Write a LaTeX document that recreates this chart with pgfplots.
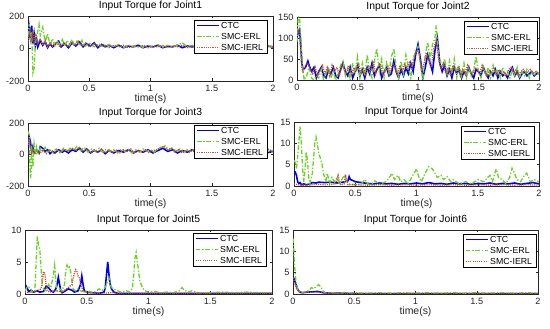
\documentclass[border=0pt]{standalone}
\usepackage{pgfplots}
\pgfplotsset{compat=1.18}
\usepackage{fontspec}
\setmainfont{Liberation Sans}
\definecolor{cctc}{RGB}{0,0,235}
\definecolor{cerl}{RGB}{105,210,35}
\definecolor{cierl}{RGB}{195,80,50}
\definecolor{axgray}{RGB}{38,38,38}
\tikzset{
  lctc/.style={color=cctc, solid, line width=1.6bp},
  lerl/.style={color=cerl, line width=1.3bp, dash pattern=on 4.5bp off 1.8bp on 1.3bp off 1.8bp},
  lierl/.style={color=cierl, line width=1.3bp, dash pattern=on 1.1bp off 1.1bp},
  legtxt/.style={anchor=west, inner sep=0pt, font=\fontsize{8.8}{9}\selectfont, text=black},
}
\pgfplotsset{
  jax/.style={
    scale only axis,
    xmin=0, xmax=2,
    xtick={0,0.5,1,1.5,2},
    xticklabels={0,0.5,1,1.5,2},
    xlabel={time(s)},
    tick align=inside,
    major tick length=2.5bp,
    axis line style={draw=axgray, line width=0.5bp},
    every tick/.style={draw=axgray, line width=0.5bp},
    /pgf/number format/assume math mode=true,
    ticklabel style={font=\fontsize{9.2}{9.2}\selectfont, text=axgray},
    xticklabel style={yshift=-0.5bp},
    xlabel style={font=\fontsize{10.5}{11}\selectfont, text=axgray, yshift=4bp},
    title style={font=\fontsize{10.4}{11}\selectfont, yshift=-4.5bp},
    clip=true,
  },
}
% legend box and legend texts: #1 = gap from right axis edge, #2 = gap from top axis edge (bp)
\newcommand{\legbox}[2]{%
  \path (rel axis cs:1,1) ++(-#1bp,-#2bp) coordinate (L);
  \draw[solid, line width=0.5bp, fill=white] (L) rectangle ++(-73bp,-33bp);}
\newcommand{\legtext}[2]{%
  \path (rel axis cs:1,1) ++(-#1bp,-#2bp) coordinate (L);
  \path (L) ++(-46bp,-5.5bp)  node[legtxt] {CTC};
  \path (L) ++(-46bp,-16.5bp) node[legtxt] {SMC-ERL};
  \path (L) ++(-46bp,-27.5bp) node[legtxt] {SMC-IERL};}
\begin{document}
\begin{tikzpicture}
\useasboundingbox (0,0) rectangle (550bp,329bp);
% ---------------- Joint 1
\begin{axis}[jax, at={(28bp,248bp)}, anchor=south west, width=245bp, height=65bp,
  ymin=-200, ymax=200, ytick={-200,0,200}, yticklabels={-200,0,200},
  title={Input Torque for Joint1}]
\addplot[lctc] coordinates {(0,40)(0.01,130)(0.02,70)(0.03,140)(0.04,30)(0.05,90)(0.06,20)(0.07,60)(0.08,10)(0.1,50)(0.12,20)(0.14,40)(0.16,5)(0.18,30)(0.2,10)(0.22,25)(0.25,45)(0.27,10)(0.3,30)(0.33,5)(0.36,35)(0.39,15)(0.42,40)(0.45,10)(0.48,30)(0.51,15)(0.54,35)(0.57,5)(0.6,25)(0.63,10)(0.66,20)(0.7,5)(0.74,20)(0.78,5)(0.82,15)(0.86,10)(0.9,20)(0.94,5)(0.98,15)(1.02,10)(1.06,20)(1.1,5)(1.14,15)(1.18,10)(1.22,20)(1.26,5)(1.3,15)(1.34,10)(1.38,15)(1.42,5)(1.46,15)(1.5,10)(1.55,20)(1.6,5)(1.65,15)(1.7,10)(1.75,15)(1.8,5)(1.85,15)(1.9,10)(1.95,15)(2,10)};
\addplot[lerl] coordinates {(0,80)(0.01,150)(0.02,60)(0.03,100)(0.04,-150)(0.05,-120)(0.06,30)(0.08,110)(0.09,150)(0.1,80)(0.12,130)(0.14,40)(0.16,90)(0.18,20)(0.2,60)(0.22,15)(0.24,45)(0.26,20)(0.28,55)(0.3,15)(0.32,50)(0.34,20)(0.36,55)(0.38,15)(0.4,45)(0.42,20)(0.44,50)(0.46,10)(0.5,35)(0.54,10)(0.58,30)(0.62,5)(0.66,25)(0.7,10)(0.74,25)(0.78,5)(0.82,20)(0.86,10)(0.9,25)(0.94,5)(0.98,20)(1.02,10)(1.06,25)(1.1,5)(1.14,20)(1.18,10)(1.22,20)(1.26,35)(1.3,10)(1.34,20)(1.38,5)(1.42,20)(1.46,10)(1.5,25)(1.55,5)(1.6,20)(1.65,10)(1.7,30)(1.75,10)(1.8,20)(1.85,5)(1.9,25)(1.95,10)(2,15)};
\addplot[lierl] coordinates {(0,30)(0.01,100)(0.02,120)(0.03,60)(0.04,110)(0.05,40)(0.06,80)(0.08,30)(0.1,60)(0.12,20)(0.14,50)(0.16,10)(0.18,35)(0.2,15)(0.23,40)(0.26,10)(0.29,35)(0.32,10)(0.35,40)(0.38,20)(0.41,45)(0.44,15)(0.47,35)(0.5,10)(0.54,30)(0.58,10)(0.62,25)(0.66,5)(0.7,20)(0.74,10)(0.78,20)(0.82,5)(0.86,15)(0.9,10)(0.94,20)(0.98,5)(1.02,15)(1.06,10)(1.1,20)(1.14,5)(1.18,15)(1.22,10)(1.26,20)(1.3,5)(1.34,15)(1.4,10)(1.45,20)(1.5,5)(1.55,15)(1.6,10)(1.65,20)(1.7,5)(1.75,15)(1.8,10)(1.85,20)(1.9,5)(1.95,15)(2,10)};
\legbox{6}{4}
\addplot[lctc] coordinates {(1.3796,141.54)(1.5592,141.54)};
\addplot[lerl] coordinates {(1.3796,73.85)(1.5592,73.85)};
\addplot[lierl] coordinates {(1.3796,6.15)(1.5592,6.15)};
\legtext{6}{4}
\end{axis}
% ---------------- Joint 2
\begin{axis}[jax, at={(297bp,249bp)}, anchor=south west, width=242bp, height=63bp,
  ymin=0, ymax=150, ytick={0,50,100,150}, yticklabels={0,50,100,150},
  title={Input Torque for Joint2}]
\addplot[lctc] coordinates {(0,100)(0.01,115)(0.02,120)(0.03,90)(0.04,40)(0.05,25)(0.07,30)(0.09,45)(0.1,35)(0.12,20)(0.14,30)(0.16,5)(0.18,20)(0.2,30)(0.22,10)(0.24,5)(0.26,25)(0.28,15)(0.3,30)(0.32,10)(0.34,5)(0.36,25)(0.38,40)(0.4,20)(0.42,10)(0.44,30)(0.46,5)(0.48,20)(0.5,35)(0.52,10)(0.54,25)(0.56,5)(0.58,30)(0.6,15)(0.62,40)(0.64,10)(0.66,25)(0.68,35)(0.7,5)(0.72,20)(0.74,30)(0.76,10)(0.78,15)(0.8,45)(0.82,20)(0.84,5)(0.86,25)(0.88,10)(0.9,30)(0.92,15)(0.94,40)(0.96,20)(0.98,60)(1.0,85)(1.02,50)(1.04,5)(1.06,30)(1.08,60)(1.1,40)(1.12,20)(1.14,70)(1.16,100)(1.18,40)(1.2,20)(1.22,35)(1.24,10)(1.26,25)(1.28,5)(1.3,30)(1.32,15)(1.34,25)(1.36,5)(1.38,20)(1.4,10)(1.42,30)(1.44,15)(1.46,5)(1.48,25)(1.5,20)(1.52,10)(1.54,30)(1.56,15)(1.58,5)(1.6,20)(1.62,10)(1.64,25)(1.66,5)(1.68,20)(1.7,10)(1.72,15)(1.74,5)(1.76,20)(1.78,30)(1.8,10)(1.82,20)(1.84,5)(1.86,15)(1.88,20)(1.9,10)(1.92,15)(1.94,20)(1.96,10)(1.98,15)(2,15)};
\addplot[lerl] coordinates {(0,90)(0.01,150)(0.02,150)(0.03,110)(0.04,60)(0.05,20)(0.06,0)(0.08,10)(0.1,30)(0.12,5)(0.14,0)(0.16,10)(0.18,5)(0.2,25)(0.22,0)(0.24,15)(0.26,30)(0.28,5)(0.3,20)(0.32,0)(0.34,15)(0.36,35)(0.38,45)(0.4,10)(0.42,30)(0.44,0)(0.46,40)(0.48,15)(0.5,55)(0.52,5)(0.54,40)(0.56,10)(0.58,60)(0.6,20)(0.62,5)(0.64,45)(0.66,75)(0.68,20)(0.7,50)(0.72,5)(0.74,40)(0.76,15)(0.78,55)(0.8,75)(0.82,30)(0.84,5)(0.86,45)(0.88,15)(0.9,60)(0.92,30)(0.94,5)(0.96,50)(0.98,70)(1.0,80)(1.02,40)(1.04,0)(1.06,60)(1.08,90)(1.1,50)(1.12,85)(1.14,100)(1.15,130)(1.17,60)(1.2,30)(1.22,50)(1.24,10)(1.26,45)(1.28,15)(1.3,50)(1.32,5)(1.34,35)(1.36,10)(1.38,40)(1.4,5)(1.42,30)(1.44,10)(1.46,25)(1.48,55)(1.5,20)(1.52,5)(1.54,35)(1.56,10)(1.58,30)(1.6,5)(1.62,35)(1.64,15)(1.66,25)(1.68,5)(1.7,30)(1.72,10)(1.74,20)(1.76,5)(1.78,25)(1.8,10)(1.82,30)(1.84,5)(1.86,20)(1.88,10)(1.9,25)(1.92,5)(1.94,20)(1.96,10)(1.98,20)(2,15)};
\addplot[lierl] coordinates {(0,110)(0.01,120)(0.02,110)(0.03,70)(0.04,30)(0.05,20)(0.07,35)(0.09,40)(0.11,25)(0.13,15)(0.15,30)(0.17,10)(0.19,25)(0.21,35)(0.23,15)(0.25,30)(0.27,10)(0.29,35)(0.31,20)(0.33,30)(0.35,10)(0.37,35)(0.39,25)(0.41,15)(0.43,35)(0.45,10)(0.47,30)(0.49,20)(0.51,40)(0.53,15)(0.55,30)(0.57,10)(0.59,35)(0.61,20)(0.63,45)(0.65,15)(0.67,30)(0.69,40)(0.71,10)(0.73,25)(0.75,35)(0.77,15)(0.79,40)(0.81,30)(0.83,10)(0.85,35)(0.87,20)(0.89,40)(0.91,25)(0.93,45)(0.95,30)(0.97,55)(0.99,70)(1.01,60)(1.03,20)(1.05,40)(1.07,65)(1.09,45)(1.11,30)(1.13,75)(1.15,95)(1.17,50)(1.19,25)(1.21,40)(1.23,15)(1.25,30)(1.27,10)(1.29,35)(1.31,20)(1.33,30)(1.35,10)(1.37,25)(1.39,15)(1.41,35)(1.43,20)(1.45,10)(1.47,30)(1.49,25)(1.51,15)(1.53,35)(1.55,20)(1.57,10)(1.59,25)(1.61,15)(1.63,30)(1.65,10)(1.67,25)(1.69,15)(1.71,20)(1.73,10)(1.75,25)(1.77,30)(1.79,15)(1.81,25)(1.83,10)(1.85,20)(1.87,25)(1.89,15)(1.91,20)(1.93,25)(1.95,15)(1.97,20)(2,15)};
\legbox{2}{4}
\addplot[lctc] coordinates {(1.4050,127.38)(1.5868,127.38)};
\addplot[lerl] coordinates {(1.4050,101.19)(1.5868,101.19)};
\addplot[lierl] coordinates {(1.4050,75.0)(1.5868,75.0)};
\legtext{2}{4}
\end{axis}
% ---------------- Joint 3
\begin{axis}[jax, at={(28bp,143bp)}, anchor=south west, width=245bp, height=63bp,
  ymin=-200, ymax=200, ytick={-200,0,200}, yticklabels={-200,0,200},
  title={Input Torque for Joint3}]
\addplot[lctc] coordinates {(0,20)(0.01,110)(0.02,80)(0.03,20)(0.04,50)(0.05,10)(0.07,30)(0.09,10)(0.1,50)(0.12,40)(0.14,20)(0.16,30)(0.18,5)(0.2,20)(0.22,10)(0.25,30)(0.28,15)(0.3,25)(0.33,10)(0.36,30)(0.39,20)(0.42,40)(0.45,15)(0.48,35)(0.51,10)(0.54,25)(0.57,15)(0.6,30)(0.63,5)(0.66,25)(0.7,10)(0.74,25)(0.78,15)(0.82,30)(0.86,10)(0.9,25)(0.94,15)(0.98,30)(1.02,10)(1.06,25)(1.1,40)(1.14,20)(1.18,30)(1.22,10)(1.26,25)(1.3,15)(1.34,30)(1.38,10)(1.42,25)(1.46,15)(1.5,30)(1.55,10)(1.6,25)(1.65,15)(1.7,30)(1.75,10)(1.8,25)(1.85,15)(1.9,30)(1.95,10)(2,20)};
\addplot[lerl] coordinates {(0,150)(0.01,120)(0.015,-50)(0.02,-150)(0.025,-120)(0.03,60)(0.04,-80)(0.05,70)(0.06,20)(0.07,50)(0.08,0)(0.1,40)(0.12,20)(0.14,45)(0.16,10)(0.18,30)(0.2,15)(0.23,35)(0.26,10)(0.29,40)(0.32,20)(0.35,45)(0.38,30)(0.4,55)(0.43,25)(0.46,45)(0.49,15)(0.52,35)(0.55,20)(0.58,40)(0.61,15)(0.64,35)(0.67,20)(0.7,30)(0.73,10)(0.76,35)(0.79,20)(0.82,30)(0.85,10)(0.88,30)(0.91,15)(0.94,35)(0.97,20)(1.0,30)(1.03,15)(1.06,35)(1.09,45)(1.12,55)(1.15,30)(1.18,40)(1.21,20)(1.24,35)(1.27,15)(1.3,30)(1.33,20)(1.36,35)(1.4,15)(1.45,30)(1.5,20)(1.55,35)(1.6,15)(1.65,30)(1.7,20)(1.75,35)(1.8,15)(1.85,30)(1.9,20)(1.95,40)(2,20)};
\addplot[lierl] coordinates {(0,60)(0.01,100)(0.02,40)(0.03,10)(0.04,40)(0.06,0)(0.08,20)(0.1,10)(0.12,30)(0.15,5)(0.18,25)(0.21,10)(0.24,30)(0.27,15)(0.3,35)(0.33,20)(0.36,40)(0.39,25)(0.42,45)(0.45,20)(0.48,35)(0.51,10)(0.54,30)(0.57,15)(0.6,35)(0.63,10)(0.66,30)(0.69,15)(0.72,30)(0.75,10)(0.78,30)(0.81,20)(0.84,35)(0.87,10)(0.9,25)(0.93,15)(0.96,30)(0.99,10)(1.02,25)(1.05,30)(1.08,45)(1.11,50)(1.14,30)(1.17,40)(1.2,15)(1.23,30)(1.26,10)(1.29,25)(1.32,15)(1.35,30)(1.4,10)(1.45,25)(1.5,15)(1.55,30)(1.6,10)(1.65,25)(1.7,15)(1.75,30)(1.8,10)(1.85,25)(1.9,15)(1.95,35)(2,15)};
\legbox{6}{2}
\addplot[lctc] coordinates {(1.3796,152.38)(1.5592,152.38)};
\addplot[lerl] coordinates {(1.3796,82.54)(1.5592,82.54)};
\addplot[lierl] coordinates {(1.3796,12.70)(1.5592,12.70)};
\legtext{6}{2}
\end{axis}
% ---------------- Joint 4
\begin{axis}[jax, at={(294bp,143bp)}, anchor=south west, width=245bp, height=64bp,
  ymin=0, ymax=15, ytick={0,5,10,15}, yticklabels={0,5,10,15},
  title={Input Torque for Joint4}]
\addplot[lctc] coordinates {(0,3.5)(0.01,3.3)(0.02,2.5)(0.03,1)(0.04,0.6)(0.05,0.8)(0.06,0.3)(0.08,0.5)(0.1,0.3)(0.12,0.4)(0.15,0.8)(0.18,0.7)(0.2,0.9)(0.25,0.8)(0.3,0.9)(0.35,0.7)(0.4,0.9)(0.44,1.2)(0.45,2.2)(0.46,1.5)(0.48,1.3)(0.5,1)(0.55,0.8)(0.6,0.6)(0.65,0.5)(0.7,0.7)(0.75,0.5)(0.8,0.6)(0.85,0.4)(0.9,0.6)(0.95,0.5)(1.0,0.7)(1.05,0.5)(1.1,0.8)(1.15,0.5)(1.2,0.6)(1.25,0.4)(1.3,0.7)(1.35,0.5)(1.4,0.6)(1.45,0.4)(1.5,0.6)(1.55,0.5)(1.6,0.7)(1.65,0.4)(1.7,0.6)(1.75,0.5)(1.8,0.7)(1.85,0.4)(1.9,0.6)(1.95,0.8)(2,0.5)};
\addplot[lerl] coordinates {(0,6)(0.01,5.5)(0.02,4)(0.03,7)(0.05,14)(0.06,10)(0.07,4)(0.08,1)(0.09,4)(0.1,8)(0.11,6)(0.12,2)(0.13,0.5)(0.15,3)(0.17,10)(0.18,11.5)(0.19,10)(0.2,8)(0.21,7)(0.22,6)(0.23,5)(0.24,3)(0.25,2)(0.26,1)(0.27,3)(0.28,2)(0.29,0.5)(0.31,2)(0.33,1)(0.35,2)(0.37,0.5)(0.39,1.5)(0.41,2.5)(0.43,1)(0.45,0.5)(0.5,0.3)(0.55,0.5)(0.58,1.5)(0.6,0.5)(0.63,0.3)(0.66,1.2)(0.7,0.4)(0.75,1)(0.78,2)(0.8,3)(0.82,1.5)(0.85,2.5)(0.87,1)(0.9,1.5)(0.93,0.5)(0.97,2.5)(1.0,4)(1.02,2)(1.04,1)(1.07,3)(1.1,4.5)(1.13,4)(1.15,3)(1.17,2)(1.2,2.5)(1.22,1.5)(1.25,2.2)(1.28,1)(1.3,1.5)(1.35,0.5)(1.4,1)(1.45,0.5)(1.5,1.5)(1.55,1)(1.58,2)(1.6,2.5)(1.62,1)(1.65,4)(1.67,2)(1.7,1.5)(1.73,0.5)(1.76,2)(1.78,4.2)(1.8,3)(1.82,1.5)(1.85,1)(1.88,2.5)(1.9,3)(1.93,1)(1.96,1.5)(2,1)};
\addplot[lierl] coordinates {(0,0.5)(0.05,0.2)(0.1,0.2)(0.15,0.3)(0.2,0.4)(0.25,0.3)(0.3,0.4)(0.34,0.5)(0.35,1.5)(0.36,2.5)(0.37,1)(0.38,0.3)(0.41,0.5)(0.42,2.7)(0.43,1.5)(0.44,0.3)(0.5,0.3)(0.6,0.2)(0.7,0.3)(0.8,0.2)(0.9,0.3)(1.0,0.2)(1.1,0.3)(1.2,0.2)(1.3,0.3)(1.4,0.2)(1.5,0.3)(1.6,0.2)(1.7,0.3)(1.8,0.2)(1.9,0.3)(2,0.2)};
\legbox{5}{4}
\addplot[lctc] coordinates {(1.3878,12.773)(1.5673,12.773)};
\addplot[lerl] coordinates {(1.3878,10.195)(1.5673,10.195)};
\addplot[lierl] coordinates {(1.3878,7.617)(1.5673,7.617)};
\legtext{5}{4}
\end{axis}
% ---------------- Joint 5
\begin{axis}[jax, at={(25bp,35bp)}, anchor=south west, width=247bp, height=64bp,
  ymin=0, ymax=10, ytick={0,5,10}, yticklabels={0,5,10},
  title={Input Torque for Joint5}]
\addplot[lctc] coordinates {(0,0.8)(0.01,1.2)(0.02,0.8)(0.03,0.4)(0.05,0.6)(0.07,0.3)(0.1,0.5)(0.12,0.3)(0.15,0.4)(0.17,1.2)(0.19,1)(0.21,0.5)(0.23,0.3)(0.25,0.8)(0.26,1.5)(0.27,2.6)(0.28,1.5)(0.29,0.5)(0.3,0.2)(0.32,0.4)(0.35,0.8)(0.38,0.6)(0.4,0.3)(0.43,0.5)(0.45,1.5)(0.46,2.8)(0.47,1.5)(0.48,0.5)(0.5,0.3)(0.55,0.2)(0.6,0.1)(0.64,0.3)(0.65,1)(0.66,3)(0.67,5)(0.68,3)(0.69,1.5)(0.7,0.8)(0.72,0.3)(0.75,0.1)(0.8,0.1)(0.9,0.1)(1.0,0.1)(1.1,0.1)(1.2,0.1)(1.3,0.1)(1.4,0.1)(1.5,0.1)(1.6,0.1)(1.7,0.1)(1.8,0.1)(1.9,0.1)(2,0.1)};
\addplot[lerl] coordinates {(0,0.5)(0.02,1.2)(0.04,1)(0.06,0.3)(0.08,0.5)(0.09,5)(0.1,9)(0.11,7.5)(0.12,7)(0.13,4)(0.14,1.5)(0.15,0.8)(0.17,0.5)(0.19,1.5)(0.21,1)(0.23,3)(0.24,4.5)(0.25,2)(0.26,0.5)(0.28,0.8)(0.3,0.5)(0.32,1.5)(0.33,3.5)(0.34,4.5)(0.35,4)(0.36,4.2)(0.37,3.5)(0.38,2)(0.39,0.8)(0.41,0.5)(0.43,0.8)(0.45,0.5)(0.48,0.3)(0.5,0.5)(0.55,0.2)(0.58,0.5)(0.6,0.8)(0.62,0.5)(0.65,1)(0.67,2)(0.68,2.5)(0.69,1.5)(0.7,1)(0.72,0.8)(0.75,0.5)(0.78,0.3)(0.82,0.5)(0.85,0.3)(0.87,1)(0.88,3)(0.89,5.5)(0.9,6.5)(0.91,5)(0.92,3.5)(0.93,2)(0.95,1)(0.97,0.5)(1.0,0.3)(1.05,0.4)(1.1,0.2)(1.15,0.3)(1.2,0.2)(1.25,0.5)(1.27,1)(1.29,0.6)(1.32,0.3)(1.35,0.5)(1.4,0.2)(1.5,0.2)(1.6,0.3)(1.7,0.2)(1.8,0.3)(1.9,0.2)(2,0.2)};
\addplot[lierl] coordinates {(0,0.3)(0.05,0.2)(0.1,0.5)(0.13,0.8)(0.14,2)(0.15,3.5)(0.16,3.2)(0.17,1.5)(0.18,0.5)(0.2,0.3)(0.25,0.5)(0.3,0.3)(0.35,1)(0.38,1.5)(0.39,2.5)(0.4,3.2)(0.41,3.8)(0.42,3.5)(0.43,2.8)(0.44,2.5)(0.45,1.5)(0.47,0.5)(0.5,0.2)(0.6,0.1)(0.7,0.2)(0.8,0.1)(1.0,0.1)(1.2,0.1)(1.4,0.1)(1.6,0.1)(1.8,0.1)(2,0.1)};
\legbox{6}{3}
\addplot[lctc] coordinates {(1.3846,8.672)(1.5628,8.672)};
\addplot[lerl] coordinates {(1.3846,6.953)(1.5628,6.953)};
\addplot[lierl] coordinates {(1.3846,5.234)(1.5628,5.234)};
\legtext{6}{3}
\end{axis}
% ---------------- Joint 6
\begin{axis}[jax, at={(293bp,35bp)}, anchor=south west, width=245bp, height=64bp,
  ymin=0, ymax=15, ytick={0,5,10,15}, yticklabels={0,5,10,15},
  title={Input Torque for Joint6}]
\addplot[lctc] coordinates {(0,4)(0.01,3.5)(0.02,2.5)(0.03,1.8)(0.04,1)(0.05,0.6)(0.06,0.4)(0.08,0.3)(0.1,0.4)(0.15,0.5)(0.2,0.6)(0.25,0.3)(0.3,0.2)(0.4,0.2)(0.5,0.1)(0.6,0.1)(0.8,0.1)(1.0,0.1)(1.2,0.1)(1.4,0.1)(1.6,0.1)(1.8,0.1)(2,0.1)};
\addplot[lerl] coordinates {(0,13)(0.005,12)(0.01,8)(0.02,4)(0.03,2)(0.04,1)(0.05,0.5)(0.07,0.3)(0.1,0.5)(0.13,0.8)(0.15,1.5)(0.17,1.2)(0.19,1.8)(0.21,2.2)(0.23,1.5)(0.25,0.5)(0.28,0.2)(0.32,0.3)(0.38,0.1)(0.42,0.4)(0.46,0.2)(0.5,0.3)(0.6,0.2)(0.7,0.3)(0.8,0.2)(0.9,0.3)(1.0,0.2)(1.1,0.3)(1.2,0.2)(1.3,0.3)(1.4,0.2)(1.5,0.3)(1.6,0.2)(1.7,0.3)(1.8,0.2)(1.9,0.3)(2,0.2)};
\addplot[lierl] coordinates {(0,3.8)(0.01,3)(0.02,2)(0.03,1.2)(0.05,0.5)(0.08,0.3)(0.12,0.4)(0.2,0.4)(0.3,0.2)(0.5,0.1)(1,0.1)(1.5,0.1)(2,0.1)};
\legbox{2}{4}
\addplot[lctc] coordinates {(1.4122,12.773)(1.5918,12.773)};
\addplot[lerl] coordinates {(1.4122,10.195)(1.5918,10.195)};
\addplot[lierl] coordinates {(1.4122,7.617)(1.5918,7.617)};
\legtext{2}{4}
\end{axis}
\end{tikzpicture}
\end{document}
